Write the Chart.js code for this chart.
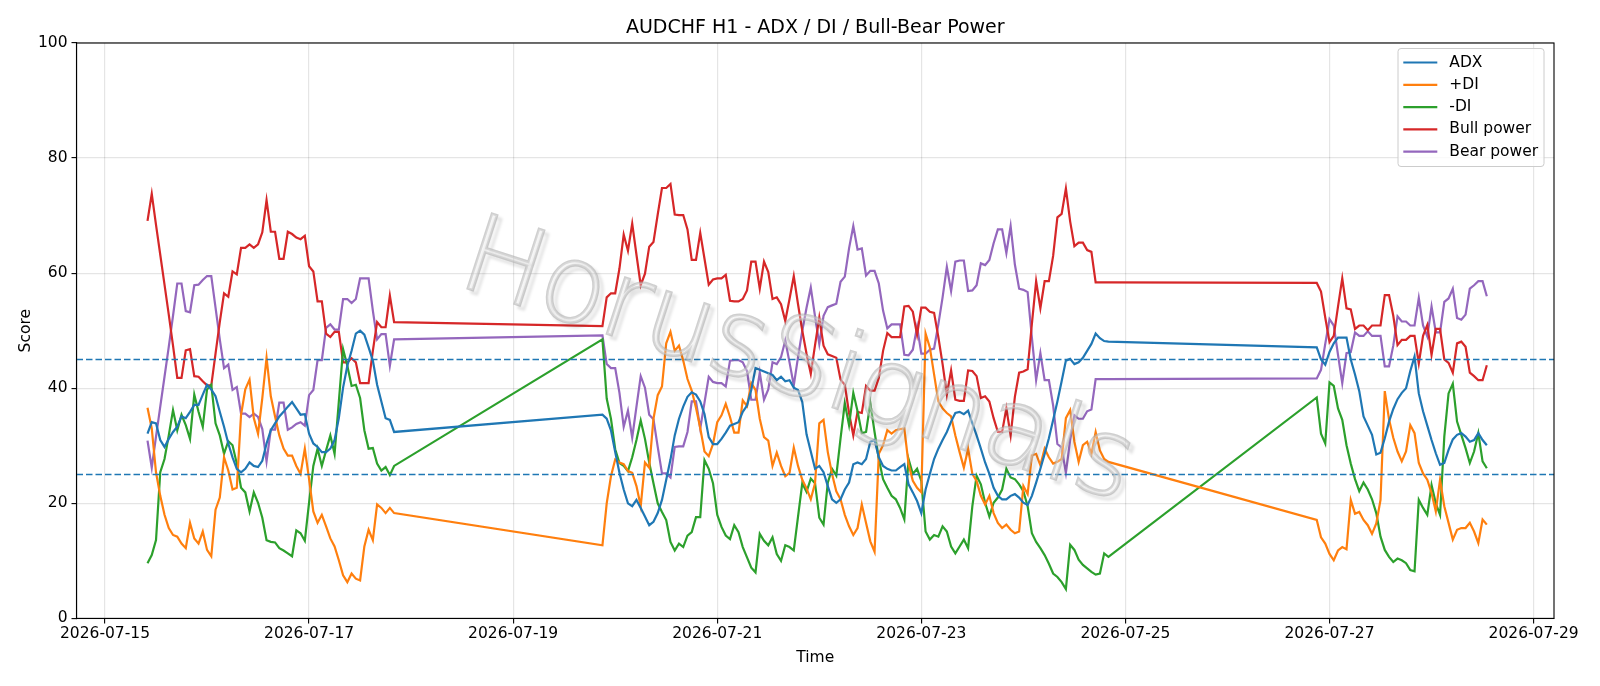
<!DOCTYPE html>
<html>
<head>
<meta charset="utf-8">
<script src="https://cdn.jsdelivr.net/npm/chart.js@4.4.1/dist/chart.umd.min.js"></script>
<style>
  html, body { margin: 0; padding: 0; background: #fff; }
  #wrap { width: 1600px; height: 686px; }
</style>
</head>
<body>
<div id="wrap"><canvas id="chart" width="1600" height="686"></canvas></div>
<script>
// hourly bars, three trading stretches (weekend gaps are joined by straight lines)
const segmentStarts = ['2026-07-15T10:00:00Z', '2026-07-19T21:00:00Z', '2026-07-26T21:00:00Z'];
const segmentLengths = [59, 120, 41];
const tickDates = ['2026-07-15', '2026-07-17', '2026-07-19', '2026-07-21', '2026-07-23', '2026-07-25', '2026-07-27', '2026-07-29'];
const levels = [25, 45];

const adx = [
  32.1, 34.1, 33.9, 31, 29.8, 31.2, 32.4, 33.3, 35.1, 34.8, 35.9, 37.1, 37.1, 38.9, 40.6, 39.8, 38.6, 35.9, 33.3, 30.4,
  28, 26, 25.4, 26, 27.1, 26.5, 26.3, 27.4, 30.4, 32.7, 33.9, 35.1, 35.9, 36.8, 37.6, 36.5, 35.4, 35.5, 32.1, 30.4,
  29.8, 28.9, 28.9, 29.5, 31, 34.8, 40.1, 43.9, 46.5, 49.5, 50, 49.3, 47.1, 44.8, 40.6, 37.7, 34.8, 34.5, 32.4,
  35.4, 34.7, 32.7, 28.9, 25.3, 22.4, 20, 19.5, 20.6, 19.2, 17.7, 16.2, 16.8, 18.3, 20.6, 24.1, 27.6, 31.8, 34.7, 36.8,
  38.5, 39.3, 38.9, 37.7, 35.5, 31.5, 30.3, 30.3, 31.2, 32.3, 33.5, 33.8, 34.1, 35.9, 37, 39.7, 43.5, 43.2, 42.9, 42.6,
  42.3, 41.4, 42, 41.2, 41.4, 40.1, 39.7, 37.6, 32, 29, 26, 26.5, 25.4, 23, 20.7, 20.1, 20.7, 22.4, 23.6, 26.8,
  27.1, 26.8, 27.7, 30.7, 31, 28, 26.5, 26, 25.7, 25.7, 26.3, 26.8, 23.3, 21.9, 20.4, 18.3, 22.4, 25.1, 27.7, 29.5,
  31, 32.4, 34.2, 35.7, 35.9, 35.5, 36.1, 33.9, 31.8, 29.5, 27.1, 25.1, 22.7, 21.3, 20.7, 20.7, 21.3, 21.6, 21, 20.1,
  19.7, 21.3, 23.6, 26, 28.6, 31.3, 34.5, 37.7, 41.2, 44.8, 45.1, 44.2, 44.5, 45.3, 46.5, 47.7, 49.5, 48.7, 48.2, 48.1,
  47.1, 45, 44.1, 46.3, 47.8, 48.8, 48.8, 48.8, 45, 42.4, 39.5, 35.1, 33.5, 31.9, 28.5, 28.8, 31.3, 34.2, 36.4, 38.1,
  39.2, 40, 43, 45.5, 39.1, 36, 33.5, 31, 28.7, 26.7, 27, 29.3, 31.1, 31.9, 32.2, 31.6, 30.7, 31, 32.2, 31, 30.1
];
const plusDI = [
  36.6, 33, 25.4, 21.3, 18, 15.7, 14.5, 14.2, 13, 12.2, 16.6, 13.9, 13, 15.1, 11.9, 10.8, 18.9, 21, 28, 25.7,
  22.4, 22.7, 35.4, 39.8, 41.5, 34.8, 32.1, 38.3, 45.3, 38.6, 35.1, 31.8, 29.5, 28.3, 28.3, 26.5, 25.1, 29.5, 24.2, 18.6,
  16.6, 18, 16, 13.9, 12.5, 10.1, 7.5, 6.3, 7.8, 6.9, 6.6, 12.5, 15.4, 13.6, 19.8, 19.2, 18.3, 19.2, 18.3,
  12.7, 20, 24.7, 27.6, 27.1, 26.8, 25.6, 25.3, 23, 19.5, 27.1, 26.2, 34.7, 38.8, 40.3, 47.8, 49.8, 46.5, 47.4, 44.8,
  41.6, 39.6, 36.6, 33.1, 29, 28.2, 30.3, 34.1, 35.3, 37.3, 35, 32.3, 32.3, 37.9, 36.9, 40.9, 39.7, 34.7, 31.5, 30.9,
  26.5, 28.8, 26.5, 24.7, 25.3, 29.7, 26.5, 24.1, 22.6, 20.7, 23.5, 33.9, 34.5, 28.9, 25.1, 22.1, 20.7, 18, 16, 14.5,
  15.7, 19.8, 16.6, 13.4, 11.6, 28.6, 30.1, 32.7, 32.1, 32.7, 32.9, 33, 26.8, 23.9, 22.7, 21.9, 49.5, 47.1, 42.4, 37.7,
  36.5, 35.7, 35.1, 31.8, 28.9, 26.2, 29.5, 25.1, 23.9, 21.3, 19.8, 21.3, 18.3, 16.6, 15.7, 16.3, 15.4, 14.8, 15.1, 23,
  21.6, 28.3, 28.6, 26.6, 29.5, 28, 26.9, 27.2, 27.7, 34.8, 36.2, 30.7, 27.2, 30.1, 30.7, 28.6, 32.4, 29.2, 27.7, 27.2,
  17.1, 14.1, 13, 11.2, 10.1, 11.8, 12.4, 12, 20.6, 18.2, 18.5, 17.1, 16.2, 14.7, 16.5, 20.6, 39.5, 34.6, 31.4, 29,
  27.3, 29, 33.6, 32.2, 27, 25.2, 24.1, 21.8, 18.6, 24.1, 19.5, 16.6, 13.7, 15.4, 15.7, 15.7, 16.6, 15.1, 13.1, 17.2, 16.3
];
const minusDI = [
  9.6, 11, 13.6, 25.4, 27.7, 31.8, 36.2, 32.7, 35.4, 33.6, 31.2, 38.9, 35.9, 33.3, 39.8, 40.6, 33.9, 31.8, 28.6, 30.8,
  30.1, 26.9, 22.7, 21.9, 18.6, 21.9, 20.1, 17.5, 13.6, 13.3, 13.2, 12.2, 11.8, 11.3, 10.8, 15.3, 14.8, 13.5, 20.1, 26.5,
  29.5, 26.5, 29.2, 31.8, 28.6, 37.7, 46.8, 43.9, 40.4, 40.6, 38.3, 32.7, 29.5, 29.6, 26.9, 25.7, 26.3, 24.9, 26.5,
  48.5, 38.2, 34.7, 29.4, 27, 26.5, 25.6, 28, 31, 34.4, 31.2, 27.1, 23.5, 20, 18.5, 17.1, 13.3, 11.8, 13, 12.4,
  14.4, 15, 17.6, 17.6, 27.5, 26, 23.5, 18, 15.9, 14.4, 13.8, 16.2, 15, 12.4, 10.6, 8.8, 8, 14.7, 13.5, 12.7,
  14.1, 11.2, 10, 12.7, 12.4, 11.8, 17.7, 23.5, 22, 24.3, 23.5, 17.5, 16.3, 23.6, 26, 24.8, 31.3, 37.4, 33.6, 39.2,
  36, 32.2, 32.4, 37.4, 32.4, 27.7, 24.2, 22.7, 21.3, 20.7, 19.2, 17.2, 27.7, 25.1, 26, 23.9, 15.1, 13.7, 14.5, 14.2,
  16, 15.1, 12.5, 11.3, 12.5, 13.7, 12.2, 19.5, 24.8, 23.3, 20.1, 17.7, 20.1, 21, 22.4, 26, 24.5, 24.2, 23.3, 22.1,
  19.5, 14.8, 13.3, 12.2, 11, 9.5, 7.8, 7.2, 6.3, 5.1, 12.8, 11.9, 10.2, 9.3, 8.7, 8.1, 7.6, 7.8, 11.3, 10.7,
  38.4, 32.1, 30.4, 41, 40.4, 36.5, 34.5, 30.1, 26.9, 24.2, 22.1, 23.6, 22.4, 20.7, 18.3, 14.2, 11.9, 10.7, 9.8, 10.4,
  10.1, 9.6, 8.4, 8.2, 20.6, 19.2, 18, 23.2, 20, 18, 31.6, 39.1, 40.8, 34.2, 31.9, 29.6, 27, 29, 32.2, 27.3, 26.1
];
const bullPower = [
  69.1, 73.8, 68.4, 63.2, 58, 52.8, 47.4, 41.8, 41.8, 46.6, 46.8, 42.1, 42, 41.2, 40.5, 40.5, 46, 51.5, 56.5, 55.9,
  60.3, 59.8, 64.4, 64.4, 65, 64.4, 65, 67.1, 72.7, 67.2, 67.2, 62.5, 62.5, 67.2, 66.8, 66.2, 65.9, 66.5, 61.2, 60.3,
  55.1, 55.1, 49.5, 48.9, 49.8, 49.8, 44.5, 44.5, 45.2, 44.5, 40.9, 40.9, 40.9, 46.5, 51.5, 50.6, 50.6, 56.1, 51.5,
  50.8, 55.8, 56.5, 56.5, 60.8, 66.7, 63.9, 68.6, 63.2, 57.9, 59.9, 64.6, 65.4, 70.2, 74.8, 74.8, 75.5, 70.2, 70.1, 70.1,
  67.6, 62.3, 62.3, 67, 62.5, 58, 58.9, 59.1, 59.1, 59.7, 55.2, 55.1, 55.1, 55.5, 57, 62, 62, 57.3, 62, 60.2,
  55.5, 55.8, 54.6, 51.7, 55.5, 59.5, 54.6, 50, 46, 42.5, 47.5, 52.3, 47.4, 45.9, 45.6, 45.3, 41.5, 40.6, 35.7, 31.8,
  35.9, 35.7, 40.4, 39.6, 39.6, 41.8, 46.5, 49.6, 48.9, 48.9, 48.9, 54.2, 54.3, 53.3, 49.3, 54, 54, 53.3, 53.1, 48.9,
  44.2, 38.9, 43.1, 38, 37.8, 37.8, 43.1, 43, 42.1, 38.3, 38.6, 37.7, 34.8, 32.4, 32.4, 36.5, 31.8, 38.5, 42.7, 42.9,
  43.3, 51.2, 58.6, 53.9, 58.6, 58.6, 63, 69.7, 70.3, 74.7, 69, 64.7, 65.3, 65.3, 64, 63.7, 58.4, 58.4, 58.4, 58.4,
  58.3, 56.8, 52.3, 48, 49.1, 54.2, 59.1, 53.9, 53.7, 50.3, 50.9, 50.9, 50.1, 50.9, 50.9, 50.9, 56.2, 56.2, 52.6, 47.5,
  48.4, 48.4, 49.1, 49.1, 44.3, 49.1, 51, 45.8, 50.3, 50.3, 45, 44.4, 42.7, 47.8, 48.1, 47.2, 42.7, 42.1, 41.4, 41.4, 44
];
const bearPower = [
  30.9, 26.2, 31.6, 36.8, 42, 47.2, 52.6, 58.2, 58.2, 53.4, 53.2, 57.9, 58, 58.8, 59.5, 59.5, 54, 48.5, 43.5, 44.1,
  39.7, 40.2, 35.6, 35.6, 35, 35.6, 35, 32.9, 27.3, 32.8, 32.8, 37.5, 37.5, 32.8, 33.2, 33.8, 34.1, 33.5, 38.8, 39.7,
  44.9, 44.9, 50.5, 51.1, 50.2, 50.2, 55.5, 55.5, 54.8, 55.5, 59.1, 59.1, 59.1, 53.5, 48.5, 49.4, 49.4, 43.9, 48.5,
  49.2, 44.2, 43.5, 43.5, 39.2, 33.3, 36.1, 31.4, 36.8, 42.1, 40.1, 35.4, 34.6, 29.8, 25.2, 25.2, 24.5, 29.8, 29.9, 29.9,
  32.4, 37.7, 37.7, 33, 37.5, 42, 41.1, 40.9, 40.9, 40.3, 44.8, 44.9, 44.9, 44.5, 43, 38, 38, 42.7, 38, 39.8,
  44.5, 44.2, 45.4, 48.3, 44.5, 40.5, 45.4, 50, 54, 57.5, 52.5, 47.7, 52.6, 54.1, 54.4, 54.7, 58.5, 59.4, 64.3, 68.2,
  64.1, 64.3, 59.6, 60.4, 60.4, 58.2, 53.5, 50.4, 51.1, 51.1, 51.1, 45.8, 45.7, 46.7, 50.7, 46, 46, 46.7, 46.9, 51.1,
  55.8, 61.1, 56.9, 62, 62.2, 62.2, 56.9, 57, 57.9, 61.7, 61.4, 62.3, 65.2, 67.6, 67.6, 63.5, 68.2, 61.5, 57.3, 57.1,
  56.7, 48.8, 41.4, 46.1, 41.4, 41.4, 37, 30.3, 29.7, 25.3, 31, 35.3, 34.7, 34.7, 36, 36.3, 41.6, 41.6, 41.6, 41.6,
  41.7, 43.2, 47.7, 52, 50.9, 45.8, 40.9, 46.1, 46.3, 49.7, 49.1, 49.1, 49.9, 49.1, 49.1, 49.1, 43.8, 43.8, 47.4, 52.5,
  51.6, 51.6, 50.9, 50.9, 55.7, 50.9, 49, 54.2, 49.7, 49.7, 55, 55.6, 57.3, 52.2, 51.9, 52.8, 57.3, 57.9, 58.6, 58.6, 56
];

// x positions: hours since 2026-07-15 00:00
const origin = Date.parse('2026-07-15T00:00:00Z');
const hours = [];
segmentStarts.forEach((s, k) => {
  const h0 = (Date.parse(s) - origin) / 3600000;
  for (let i = 0; i < segmentLengths[k]; i++) hours.push(h0 + i);
});
const tickHours = tickDates.map(d => (Date.parse(d + 'T00:00:00Z') - origin) / 3600000);

const series = [
  { label: 'ADX', values: adx, color: '#1f77b4' },
  { label: '+DI', values: plusDI, color: '#ff7f0e' },
  { label: '-DI', values: minusDI, color: '#2ca02c' },
  { label: 'Bull power', values: bullPower, color: '#d62728' },
  { label: 'Bear power', values: bearPower, color: '#9467bd' }
];

const FONT = 'DejaVu Sans';

const decor = {
  id: 'decor',
  beforeDraw(chart) {
    const ctx = chart.ctx;
    ctx.save();
    ctx.fillStyle = '#fff';
    ctx.fillRect(0, 0, chart.width, chart.height);
    ctx.restore();
  },
  afterDatasetsDraw(chart) {
    const { ctx, chartArea: a, scales } = chart;
    ctx.save();
    // reference levels
    ctx.beginPath();
    ctx.rect(a.left, a.top, a.right - a.left, a.bottom - a.top);
    ctx.clip();
    ctx.strokeStyle = '#1f77b4';
    ctx.lineWidth = 1.6;
    ctx.setLineDash([6.5, 3]);
    levels.forEach(v => {
      const y = scales.y.getPixelForValue(v);
      ctx.beginPath();
      ctx.moveTo(a.left, y);
      ctx.lineTo(a.right, y);
      ctx.stroke();
    });
    ctx.setLineDash([]);
    // watermark: thin grey letters with a soft drop shadow
    ctx.save();
    ctx.translate(797, 366);
    ctx.rotate(18 * Math.PI / 180);
    ctx.font = '200 108px ' + FONT;
    ctx.textAlign = 'center';
    ctx.textBaseline = 'middle';
    ctx.shadowColor = 'rgba(0,0,0,0.22)';
    ctx.shadowOffsetX = 4;
    ctx.shadowOffsetY = 4;
    ctx.shadowBlur = 3;
    ctx.strokeStyle = 'rgba(175,175,175,0.6)';
    ctx.lineWidth = 2.5;
    ctx.strokeText('HorusSignals', 0, 0);
    ctx.shadowColor = 'transparent';
    ctx.fillStyle = 'rgba(235,235,235,0.35)';
    ctx.fillText('HorusSignals', 0, 0);
    ctx.restore();
    ctx.restore();

    ctx.save();
    // frame
    ctx.strokeStyle = '#000';
    ctx.lineWidth = 1.1;
    ctx.strokeRect(a.left, a.top, a.right - a.left, a.bottom - a.top);
    // title and axis titles
    ctx.fillStyle = '#000';
    ctx.textAlign = 'center';
    ctx.textBaseline = 'middle';
    ctx.font = '19px ' + FONT;
    ctx.fillText('AUDCHF H1 - ADX / DI / Bull-Bear Power', (a.left + a.right) / 2, 28.5);
    ctx.font = '15.5px ' + FONT;
    ctx.fillText('Time', (a.left + a.right) / 2, 658);
    ctx.save();
    ctx.translate(26, (a.top + a.bottom) / 2);
    ctx.rotate(-Math.PI / 2);
    ctx.fillText('Score', 0, 0);
    ctx.restore();
    // legend
    const bx = 1398, by = 48.5, bw = 146, bh = 118;
    ctx.beginPath();
    ctx.roundRect(bx, by, bw, bh, 3);
    ctx.fillStyle = 'rgba(255,255,255,0.8)';
    ctx.fill();
    ctx.strokeStyle = '#cccccc';
    ctx.lineWidth = 1;
    ctx.stroke();
    ctx.textAlign = 'left';
    ctx.font = '15.5px ' + FONT;
    series.forEach((s, i) => {
      const y = 62.5 + i * 22.3;
      ctx.strokeStyle = s.color;
      ctx.lineWidth = 2.2;
      ctx.beginPath();
      ctx.moveTo(1403.3, y);
      ctx.lineTo(1437.3, y);
      ctx.stroke();
      ctx.fillStyle = '#000';
      ctx.fillText(s.label, 1449.3, y);
    });
    ctx.restore();
  }
};

new Chart(document.getElementById('chart'), {
  type: 'line',
  data: {
    datasets: series.map(s => ({
      label: s.label,
      data: s.values.map((v, i) => ({ x: hours[i], y: v })),
      borderColor: s.color,
      backgroundColor: s.color,
      borderWidth: 2.2,
      pointRadius: 0,
      pointHoverRadius: 0,
      tension: 0,
      fill: false
    }))
  },
  options: {
    responsive: false,
    animation: false,
    devicePixelRatio: 1,
    layout: { padding: { top: 43, right: 46, bottom: 0, left: 0 } },
    plugins: {
      legend: { display: false },
      title: { display: false },
      tooltip: { enabled: false }
    },
    scales: {
      x: {
        type: 'linear',
        min: -6.7,
        max: 340.8,
        afterBuildTicks: axis => { axis.ticks = tickHours.map(v => ({ value: v })); },
        afterFit: scale => { scale.height = 67.6; },
        ticks: {
          autoSkip: false,
          maxRotation: 0,
          padding: 1,
          color: '#000',
          font: { family: FONT, size: 15.5 },
          callback: v => tickDates[tickHours.indexOf(v)] || ''
        },
        grid: { color: 'rgba(0,0,0,0.1)', lineWidth: 1.2, tickColor: '#000', tickLength: 5, tickWidth: 1.1 },
        border: { color: '#000', width: 1.1 }
      },
      y: {
        min: 0,
        max: 100,
        afterFit: scale => { scale.width = 76.5; },
        ticks: {
          stepSize: 20,
          padding: 4,
          color: '#000',
          font: { family: FONT, size: 15.5 }
        },
        grid: { color: 'rgba(0,0,0,0.1)', lineWidth: 1.2, tickColor: '#000', tickLength: 5, tickWidth: 1.1 },
        border: { color: '#000', width: 1.1 }
      }
    }
  },
  plugins: [decor]
});
</script>
</body>
</html>
